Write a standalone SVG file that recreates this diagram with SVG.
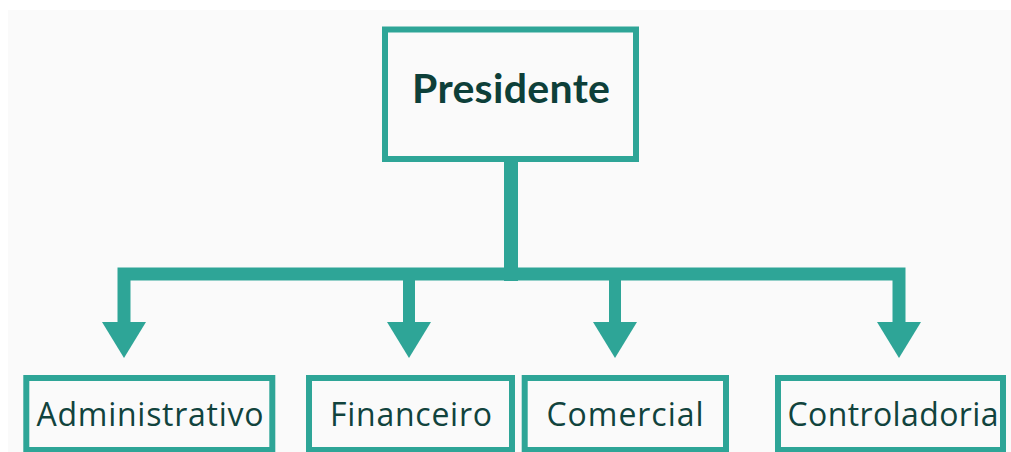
<svg xmlns="http://www.w3.org/2000/svg" width="1011" height="452" viewBox="0 0 1011 452">
<style>
.box{fill:#fafafa;stroke:#2ea597;stroke-width:6}
.lbl{font-family:"Open Sans","Liberation Sans",sans-serif;font-size:32px;fill:#11433d;text-anchor:middle}
.title{font-family:"Lato","Open Sans",sans-serif;font-weight:bold;font-size:41px;fill:#0d3f39;text-anchor:middle}
.ln{stroke:#2ea597;fill:none}
.ah{fill:#2ea597}
</style>
<rect width="1011" height="452" fill="#ffffff"/>
<rect x="8" y="10" width="1003" height="442" fill="#fafafa"/>
<g id="connectors">
<line class="ln" x1="511" y1="159" x2="511" y2="281" stroke-width="14"/>
<polyline class="ln" points="124,330 124,274 899,274 899,330" stroke-width="13" stroke-linejoin="miter"/>
<line class="ln" x1="409" y1="274" x2="409" y2="330" stroke-width="12"/>
<line class="ln" x1="615" y1="274" x2="615" y2="330" stroke-width="12"/>
<polygon class="ah" points="102,322 146,322 124,358"/>
<polygon class="ah" points="387,322 431,322 409,358"/>
<polygon class="ah" points="593,322 637,322 615,358"/>
<polygon class="ah" points="877,322 921,322 899,358"/>
</g>
<g id="presidente">
<rect class="box" x="385" y="29.5" width="251" height="129.5"/>
<text class="title" x="511" y="103" textLength="198">Presidente</text>
</g>
<g id="administrativo">
<rect class="box" x="26.3" y="378" width="246" height="72"/>
<text class="lbl" x="150" y="426" textLength="227">Administrativo</text>
</g>
<g id="financeiro">
<rect class="box" x="309" y="378" width="203" height="72"/>
<text class="lbl" x="411" y="426" textLength="162">Financeiro</text>
</g>
<g id="comercial">
<rect class="box" x="524.7" y="378" width="201.3" height="72"/>
<text class="lbl" x="625" y="426" textLength="157">Comercial</text>
</g>
<g id="controladoria">
<rect class="box" x="778" y="378" width="225" height="72"/>
<text class="lbl" x="893" y="426" textLength="211">Controladoria</text>
</g>
</svg>
